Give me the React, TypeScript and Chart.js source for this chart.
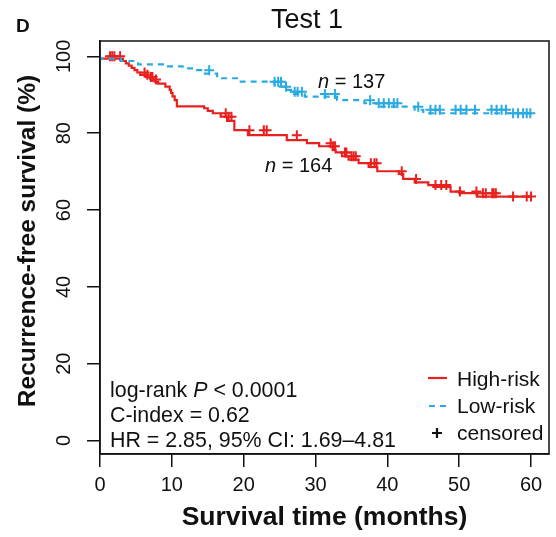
import { useEffect, useRef } from 'react';
import { Chart, registerables } from 'chart.js';

Chart.register(...registerables);

const FONT = '"Liberation Sans", Arial, Helvetica, sans-serif';
const RED = '#E8201E';
const BLUE = '#2AAAE2';

const chartTitle = 'Test 1';
const panelLabel = 'D';
const xTitle = 'Survival time (months)';
const yTitle = 'Recurrence-free survival (%)';
const xTicks = [0, 10, 20, 30, 40, 50, 60];
const yTicks = [0, 20, 40, 60, 80, 100];
const seriesNames = ['High-risk', 'Low-risk'];
const censorLabel = 'censored';
const groupSizes = [164, 137];

const highRiskTimes = [0, 3.2, 3.6, 4.0, 4.4, 4.8, 5.2, 5.6, 6.4, 7.0, 7.6, 8.1, 9.1, 9.7, 9.9, 10.1, 10.4, 10.7, 14.5, 15.0, 15.7, 16.8, 17.7, 18.7, 20.6, 26.0, 28.8, 30.5, 32.4, 32.8, 33.7, 34.6, 36.0, 37.4, 38.6, 41.6, 42.2, 43.8, 45.7, 46.4, 48.8, 50.0, 52.5, 57.2, 60.0];
const highRiskSurv = [100, 99.4, 98.8, 98.2, 97.6, 97.0, 96.4, 95.8, 95.2, 94.6, 94.0, 93.4, 92.9, 92.1, 91.3, 90.5, 89.6, 88.6, 87.0, 86.5, 85.8, 85.2, 84.3, 83.2, 80.8, 79.5, 78.2, 77.4, 76.6, 75.7, 75.0, 74.0, 73.1, 72.2, 71.2, 70.1, 69.4, 68.1, 67.2, 66.5, 66.0, 64.8, 64.4, 63.5, 63.5];
const highRiskCensored = [1.4, 1.7, 2.0, 2.8, 6.2, 6.6, 7.1, 7.3, 7.8, 17.5, 17.9, 18.3, 20.8, 22.8, 23.2, 27.4, 32.1, 32.4, 32.7, 34.1, 34.3, 35.0, 35.3, 35.6, 37.7, 38.2, 38.5, 42.0, 44.0, 46.7, 47.5, 48.2, 50.1, 52.4, 53.3, 53.7, 54.6, 54.8, 55.1, 57.5, 59.4, 60.0];

const lowRiskTimes = [0, 2.9, 5.3, 9.0, 11.5, 13.0, 14.6, 16.3, 19.3, 24.3, 25.7, 26.6, 27.0, 28.5, 33.0, 36.8, 38.5, 43.8, 45.0, 57.0, 60.0];
const lowRiskSurv = [100, 99.4, 98.8, 97.9, 97.4, 96.9, 96.4, 95.5, 94.3, 93.4, 92.1, 91.3, 90.8, 90.2, 89.5, 88.6, 87.8, 86.9, 86.1, 85.2, 85.2];
const lowRiskCensored = [15.2, 24.3, 24.8, 25.2, 25.9, 27.1, 27.5, 28.1, 31.3, 32.7, 37.6, 38.8, 39.5, 40.2, 40.9, 41.4, 44.3, 46.0, 46.7, 47.3, 49.5, 50.2, 51.0, 52.2, 54.5, 55.2, 55.9, 56.5, 57.5, 58.2, 58.9, 59.4, 59.9];

type Part = [string, boolean];
const statLines: Part[][] = [
  [['log-rank ', false], ['P', true], [' < 0.0001', false]],
  [['C-index = 0.62', false]],
  [['HR = 2.85, 95% CI: 1.69\u20134.81', false]],
];

function stepValue(times: number[], surv: number[], t: number) {
  let v = surv[0];
  for (let i = 0; i < times.length; i++) if (times[i] <= t) v = surv[i];
  return v;
}

function drawRich(ctx: CanvasRenderingContext2D, parts: Part[], x: number, y: number, size: number) {
  let cx = x;
  for (const [txt, it] of parts) {
    ctx.font = `${it ? 'italic ' : ''}${size}px ${FONT}`;
    ctx.fillText(txt, cx, y);
    cx += ctx.measureText(txt).width;
  }
}

const decor = {
  id: 'decor',
  afterDraw(chart: any) {
    const { ctx, chartArea: a, scales } = chart;
    const ys = scales.y;
    ctx.save();
    ctx.strokeStyle = '#111';
    ctx.lineWidth = 1.5;
    ctx.strokeRect(a.left, a.top, a.right - a.left, a.bottom - a.top);
    ctx.fillStyle = '#111';
    // y tick labels (rotated)
    ctx.font = `20px ${FONT}`;
    ctx.textAlign = 'center';
    ctx.textBaseline = 'middle';
    for (const v of yTicks) {
      const py = ys.getPixelForValue(v);
      ctx.save();
      ctx.translate(64, py);
      ctx.rotate(-Math.PI / 2);
      ctx.fillText(String(v), 0, 0);
      ctx.restore();
    }
    // y title
    ctx.save();
    ctx.font = `bold 24.5px ${FONT}`;
    ctx.translate(28, 241);
    ctx.rotate(-Math.PI / 2);
    ctx.fillText(yTitle, 0, 0);
    ctx.restore();
    // chart title
    ctx.textBaseline = 'alphabetic';
    ctx.font = `27px ${FONT}`;
    ctx.fillText(chartTitle, 307, 28);
    ctx.textAlign = 'left';
    ctx.font = `bold 19px ${FONT}`;
    ctx.fillText(panelLabel, 16, 32);
    // n labels
    drawRich(ctx, [['n', true], [' = ' + groupSizes[1], false]], 318, 88, 20);
    drawRich(ctx, [['n', true], [' = ' + groupSizes[0], false]], 265, 172, 20);
    // stats
    const base = [397, 422, 447];
    statLines.forEach((ln, i) => drawRich(ctx, ln, 110, base[i], 21.4));
    // legend
    ctx.lineWidth = 2.2;
    ctx.strokeStyle = RED;
    ctx.beginPath();
    ctx.moveTo(428, 378);
    ctx.lineTo(447, 378);
    ctx.stroke();
    ctx.strokeStyle = BLUE;
    ctx.setLineDash([6, 5]);
    ctx.beginPath();
    ctx.moveTo(429, 406);
    ctx.lineTo(447, 406);
    ctx.stroke();
    ctx.setLineDash([]);
    ctx.strokeStyle = '#111';
    ctx.beginPath();
    ctx.moveTo(432, 433);
    ctx.lineTo(442, 433);
    ctx.moveTo(437, 428);
    ctx.lineTo(437, 438);
    ctx.stroke();
    ctx.font = `21px ${FONT}`;
    ctx.fillText(seriesNames[0], 457, 386);
    ctx.fillText(seriesNames[1], 457, 413);
    ctx.fillText(censorLabel, 457, 440);
    ctx.restore();
  },
};

export default function App() {
  const ref = useRef<HTMLCanvasElement>(null);
  useEffect(() => {
    if (!ref.current) return;
    const line = (times: number[], surv: number[]) => times.map((t, i) => ({ x: t, y: surv[i] }));
    const cens = (c: number[], times: number[], surv: number[]) => c.map((t) => ({ x: t, y: stepValue(times, surv, t) }));
    const chart = new Chart(ref.current, {
      type: 'scatter',
      data: {
        datasets: [
          {
            label: seriesNames[1], data: line(lowRiskTimes, lowRiskSurv), showLine: true, stepped: 'after',
            borderColor: BLUE, borderWidth: 2.2, borderDash: [6, 5], pointRadius: 0, fill: false,
          } as any,
          {
            label: seriesNames[1] + ' censored', data: cens(lowRiskCensored, lowRiskTimes, lowRiskSurv),
            pointStyle: 'cross', pointRadius: 5, pointBorderWidth: 2, borderColor: BLUE, backgroundColor: BLUE,
          } as any,
          {
            label: seriesNames[0], data: line(highRiskTimes, highRiskSurv), showLine: true, stepped: 'after',
            borderColor: RED, borderWidth: 2.2, pointRadius: 0, fill: false,
          } as any,
          {
            label: seriesNames[0] + ' censored', data: cens(highRiskCensored, highRiskTimes, highRiskSurv),
            pointStyle: 'cross', pointRadius: 5, pointBorderWidth: 2, borderColor: RED, backgroundColor: RED,
          } as any,
        ],
      },
      options: {
        animation: false,
        responsive: false,
        devicePixelRatio: 1,
        layout: { padding: { top: 41, right: 5, left: 0, bottom: 0 } },
        plugins: { legend: { display: false }, tooltip: { enabled: false }, title: { display: false } },
        scales: {
          x: {
            type: 'linear', min: 0, max: 62.5,
            afterBuildTicks: (s: any) => { s.ticks = xTicks.map((v) => ({ value: v })); },
            afterFit: (s: any) => { s.height = 83; },
            ticks: { color: '#111', font: { family: FONT, size: 20 }, padding: 6, maxRotation: 0, autoSkip: false },
            grid: { drawOnChartArea: false, drawTicks: true, tickLength: 13, color: '#111', lineWidth: 1.5 },
            border: { display: true, color: '#111', width: 1.5 },
            title: { display: true, text: xTitle, color: '#111', font: { family: FONT, size: 26.5, weight: 'bold' }, padding: { top: 0, bottom: 3 } },
          },
          y: {
            type: 'linear', min: -3.5, max: 104,
            afterBuildTicks: (s: any) => { s.ticks = yTicks.map((v) => ({ value: v })); },
            afterFit: (s: any) => { s.width = 100; },
            ticks: { color: 'rgba(0,0,0,0)', font: { family: FONT, size: 20 }, autoSkip: false },
            grid: { drawOnChartArea: false, drawTicks: true, tickLength: 13, color: '#111', lineWidth: 1.5 },
            border: { display: true, color: '#111', width: 1.5 },
          },
        },
      } as any,
      plugins: [decor],
    });
    return () => chart.destroy();
  }, []);
  return (
    <div style={{ position: 'absolute', left: 0, top: 0, width: 556, height: 537, background: '#fff' }}>
      <canvas ref={ref} width={556} height={537} style={{ display: 'block' }} />
    </div>
  );
}
